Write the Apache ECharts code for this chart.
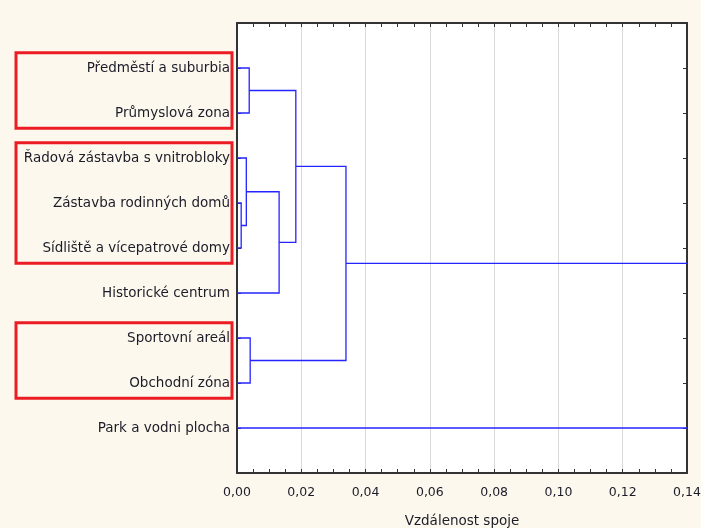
<!DOCTYPE html>
<html>
<head>
<meta charset="utf-8">
<script src="https://cdn.jsdelivr.net/npm/echarts@6/dist/echarts.min.js"></script>
<style>
html,body{margin:0;padding:0;background:#fdf8ee;}
#show{width:701px;height:528px;}
</style>
</head>
<body>
<div id="show"></div>
<script>
// listy dendrogramu, shora dolu
var leaves = [
    'Předměstí a suburbia',
    'Průmyslová zona',
    'Řadová zástavba s vnitrobloky',
    'Zástavba rodinných domů',
    'Sídliště a vícepatrové domy',
    'Historické centrum',
    'Sportovní areál',
    'Obchodní zóna',
    'Park a vodni plocha'
];
// spojovani: indexy shluku (listy 0..8, nove shluky od 9)
var mergeA = [3, 2, 0, 6, 10, 11, 14, 15];
var mergeB = [4, 9, 1, 7, 5, 13, 12, 8];
var mergeHeight = [0.0013, 0.0029, 0.0038, 0.0041, 0.0131, 0.0183, 0.0339, 0.155];
// cervene ramecky kolem skupin listu [prvni, posledni]
var groups = [[0, 1], [2, 4], [6, 7]];

var myChart = echarts.init(document.getElementById('show'));

// poloha a vyska kazdeho uzlu
var nodeY = [], nodeH = [];
for (var i = 0; i < leaves.length; i++) {
    nodeY.push(i + 1);
    nodeH.push(0);
}
var links = [];
for (var k = 0; k < mergeA.length; k++) {
    var a = mergeA[k], b = mergeB[k], h = mergeHeight[k];
    links.push([nodeH[a], nodeY[a], h, nodeY[b], nodeH[b]]);
    nodeY.push((nodeY[a] + nodeY[b]) / 2);
    nodeH.push(h);
}

var tickStyle = {show: true, inside: true, length: 4, lineStyle: {color: '#333'}};
var axisLine = {show: true, onZero: false, lineStyle: {color: '#333', width: 2}};
var fontFam = 'DejaVu Sans';
var txtColor = '#1c1c28';

var option = {
    backgroundColor: '#fdf8ee',
    animation: false,
    grid: {
        left: 237, top: 23, right: 14, bottom: 55,
        containLabel: false, outerBoundsMode: 'none',
        show: true, backgroundColor: '#ffffff', borderWidth: 0
    },
    xAxis: [{
        type: 'value',
        position: 'bottom',
        min: 0, max: 0.14, interval: 0.02,
        name: 'Vzdálenost spoje',
        nameLocation: 'middle',
        nameGap: 41,
        nameTextStyle: {fontFamily: fontFam, fontSize: 13.5, color: txtColor},
        axisLine: axisLine,
        axisTick: tickStyle,
        minorTick: {show: true, splitNumber: 4, length: 4, lineStyle: {color: '#333'}},
        splitLine: {show: true, lineStyle: {color: '#d9d9d9', width: 1}},
        axisLabel: {
            fontFamily: fontFam, fontSize: 12.5, color: txtColor, margin: 13,
            formatter: function (v) { return v.toFixed(2).replace('.', ','); }
        }
    }, {
        type: 'value',
        position: 'top',
        min: 0, max: 0.14, interval: 0.02,
        axisLine: axisLine,
        axisTick: tickStyle,
        minorTick: {show: true, splitNumber: 4, length: 4, lineStyle: {color: '#333'}},
        splitLine: {show: false},
        axisLabel: {show: false}
    }],
    yAxis: [{
        type: 'value',
        position: 'left',
        inverse: true,
        min: 0, max: leaves.length + 1, interval: 1,
        axisLine: axisLine,
        axisTick: tickStyle,
        splitLine: {show: false},
        axisLabel: {
            fontFamily: fontFam, fontSize: 13.5, color: txtColor, margin: 7,
            formatter: function (v) { return leaves[v - 1] || ''; }
        }
    }, {
        type: 'value',
        position: 'right',
        inverse: true,
        min: 0, max: leaves.length + 1, interval: 1,
        axisLine: axisLine,
        axisTick: tickStyle,
        splitLine: {show: false},
        axisLabel: {show: false}
    }],
    series: [{
        type: 'custom',
        clip: true,
        encode: {x: [0, 2, 4], y: [1, 3]},
        data: links,
        renderItem: function (params, api) {
            var p1 = api.coord([api.value(0), api.value(1)]);
            var p2 = api.coord([api.value(2), api.value(1)]);
            var p3 = api.coord([api.value(2), api.value(3)]);
            var p4 = api.coord([api.value(4), api.value(3)]);
            return {
                type: 'polyline',
                shape: {points: [p1, p2, p3, p4]},
                style: {fill: null, stroke: '#2424ff', lineWidth: 1.3}
            };
        }
    }]
};
myChart.setOption(option);

// ramecky podle polohy listu na ose
var rects = [];
for (var g = 0; g < groups.length; g++) {
    var yTop = myChart.convertToPixel({gridIndex: 0}, [0, groups[g][0] + 1 - 0.34])[1];
    var yBot = myChart.convertToPixel({gridIndex: 0}, [0, groups[g][1] + 1 + 0.34])[1];
    rects.push({
        type: 'rect',
        shape: {x: 16, y: yTop, width: 216, height: yBot - yTop},
        style: {fill: null, stroke: '#ec1c24', lineWidth: 3},
        z: 100
    });
}
myChart.setOption({graphic: rects});
</script>
</body>
</html>
